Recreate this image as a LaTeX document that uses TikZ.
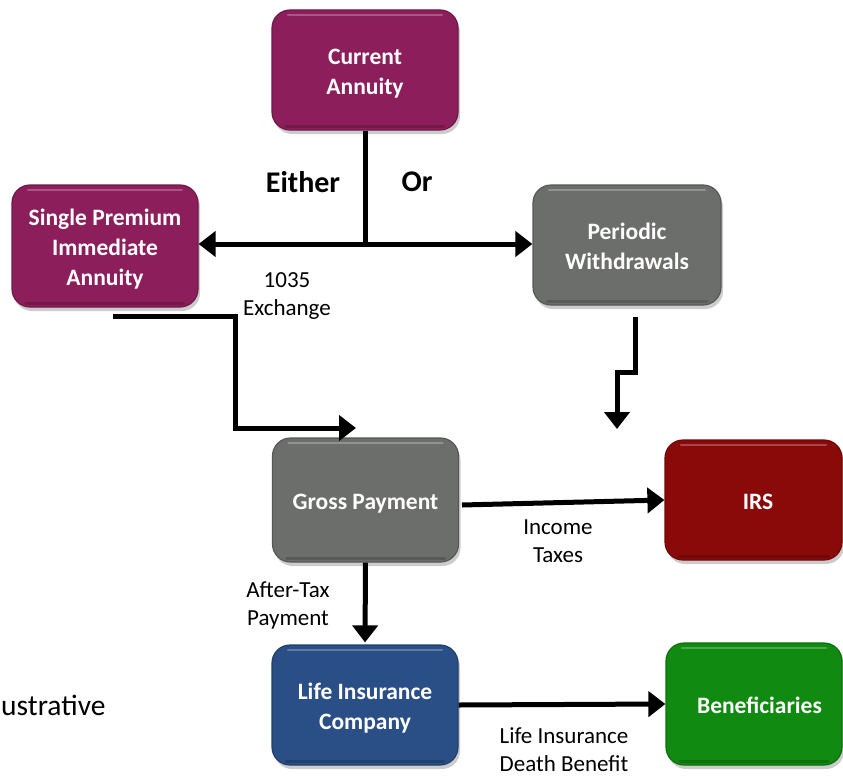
\documentclass[tikz,border=0pt]{standalone}
\usepackage{fontspec}
\setmainfont{Carlito}
\usetikzlibrary{arrows.meta,shadows,calc}
\definecolor{plum}{HTML}{8C1F5B}
\definecolor{slate}{HTML}{6C6E6C}
\definecolor{irsred}{HTML}{8A0A0A}
\definecolor{navy}{HTML}{2A4F86}
\definecolor{leaf}{HTML}{108A10}
\newcommand\boxtext[1]{\raisebox{-3.5pt}[\height][\depth]{\begin{tabular}{@{}c@{}}#1\end{tabular}}}
\begin{document}
\begin{tikzpicture}[x=1pt,y=-1pt,
  box/.style={rounded corners=18pt, minimum width=186pt, minimum height=120pt,
    inner sep=0pt, text=white,
    font=\fontsize{23.5}{30}\selectfont\bfseries,
    fill=#1, draw=#1!80!black, line width=1.2pt,
    drop shadow={shadow xshift=2pt,shadow yshift=-4pt,opacity=0.4},
    path picture={
      \draw[white,opacity=0.25,line width=2.5pt,line cap=round]
        ([xshift=16pt,yshift=-5pt]path picture bounding box.north west) --
        ([xshift=-16pt,yshift=-5pt]path picture bounding box.north east);
      \draw[black,opacity=0.18,line width=3pt,line cap=round]
        ([xshift=14pt,yshift=4pt]path picture bounding box.south west) --
        ([xshift=-14pt,yshift=4pt]path picture bounding box.south east);
    }},
  conn/.style={line width=5pt},
  arr/.style={line width=5pt, -{Triangle[length=17pt,width=25pt]}},
  lbl/.style={font=\fontsize{23}{28}\selectfont, align=center, inner sep=0pt},
  big/.style={font=\fontsize{30}{36}\selectfont\bfseries, inner sep=0pt}
]
\useasboundingbox (0,0) rectangle (843,776);
\clip (0,0) rectangle (843,776);

% boxes
\node[box=plum, minimum height=120pt] (cur) at (365,70) {\boxtext{Current\\Annuity}};
\node[box=plum, minimum height=122pt] (spia) at (105,246) {\boxtext{Single Premium\\Immediate\\Annuity}};
\node[box=slate, minimum width=188pt] (pw) at (627,245) {\boxtext{Periodic\\Withdrawals}};
\node[box=slate, minimum height=124pt] (gross) at (365.5,500) {\boxtext{Gross Payment}};
\node[box=irsred, minimum width=177pt] (irs) at (753.5,500) {\boxtext{\hspace*{9pt}IRS}};
\node[box=navy] (lic) at (365,705) {\boxtext{Life Insurance\\Company}};
\node[box=leaf, minimum width=176pt, minimum height=122pt] (ben) at (754,704) {\boxtext{\hspace*{11pt}Beneficiaries}};

% connector coordinates
\coordinate (j) at (365,244);
\coordinate (s1) at (113,316);
\coordinate (s2) at (235,316);
\coordinate (s3) at (235,428);
\coordinate (s4) at (356,428);
\coordinate (p1) at (635,317);
\coordinate (p2) at (635,372);
\coordinate (p3) at (617,372);
\coordinate (p4) at (617,429);
\coordinate (g1) at (462,505);

% connectors
\draw[conn] (cur.south) -- (j);
\draw[arr] ([xshift=2.5pt]j) -- (j -| spia.east);
\draw[arr] ([xshift=-2.5pt]j) -- (j -| pw.west);
\draw[conn, line join=miter] (s1) -- (s2) -- (s3) -- ([xshift=-16pt]s4);
\draw[arr] ([xshift=-17pt]s4) -- (s4);
\draw[conn, line join=miter] (p1) -- (p2) -- (p3) -- ([yshift=16pt]p4);
\draw[arr] ([yshift=17pt]p4) -- (p4);
\draw[arr] (g1) -- (irs.west);
\draw[arr, shorten >=2pt] (gross.south) -- (lic.north);
\draw[arr] (lic.east) -- (ben.west);

% labels
\node[big] (either) at (303,182) {Either};
\node[big] (or) at (417,182) {Or};
\node[lbl] (ex) at (287,296) {1035\\Exchange};
\node[lbl] (tax) at (558,541) {Income\\Taxes};
\node[lbl] (after) at (288,605) {After-Tax\\Payment};
\node[lbl] (death) at (564,749.5) {Life Insurance\\Death Benefit};
\node[font=\fontsize{29.5}{35}\selectfont, inner sep=0pt, anchor=west] (ill) at (1,705) {ustrative};
\end{tikzpicture}
\end{document}
